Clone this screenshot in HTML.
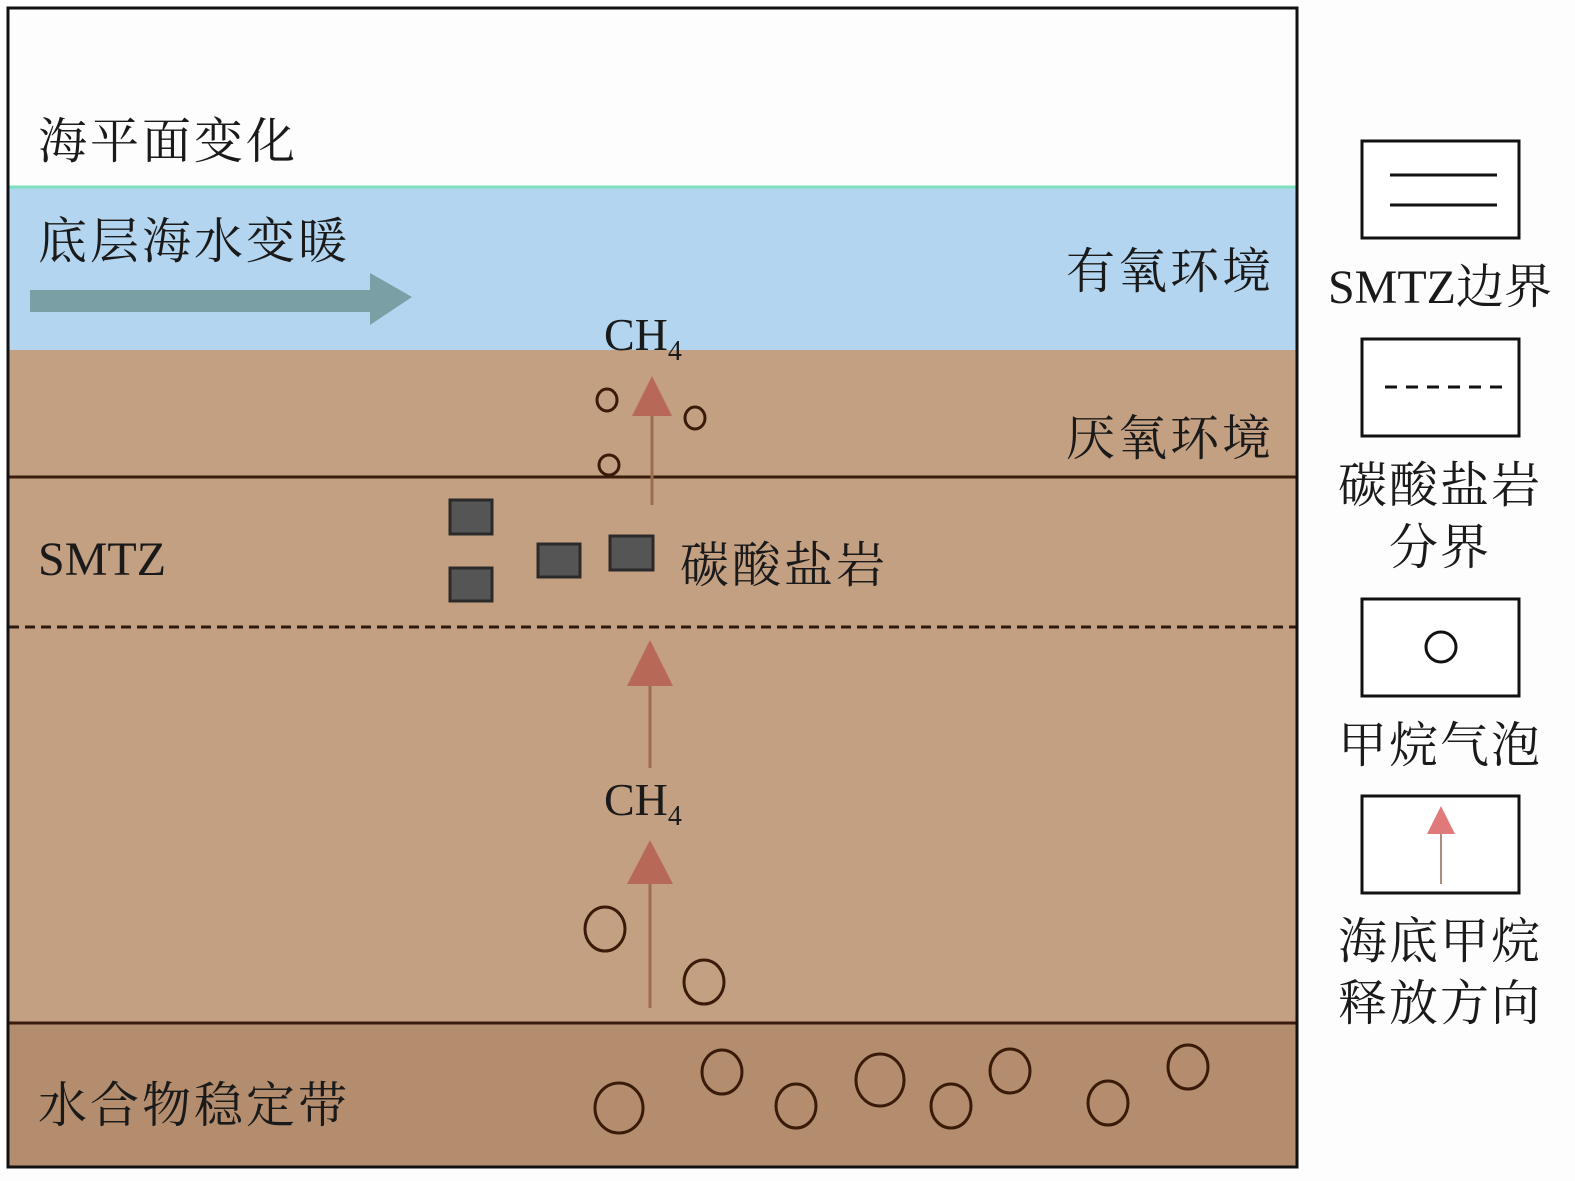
<!DOCTYPE html>
<html><head><meta charset="utf-8"><style>
html,body{margin:0;padding:0;background:#fff;}
svg{display:block;}
text{font-family:"Liberation Serif","Noto Serif CJK SC",serif;}
</style></head><body>
<svg width="1575" height="1181" viewBox="0 0 1575 1181" xmlns="http://www.w3.org/2000/svg">
<rect x="0" y="0" width="1575" height="1181" fill="#fdfdfd"/>
<rect x="9" y="186" width="1287" height="164" fill="#b3d5ef"/>
<line x1="9" y1="187" x2="1296" y2="187" stroke="#7fe0c0" stroke-width="3"/>
<rect x="9" y="350" width="1287" height="673" fill="#c4a083"/>
<rect x="9" y="1023" width="1287" height="144" fill="#b38d6e"/>
<line x1="9" y1="477" x2="1296" y2="477" stroke="#3a1c0c" stroke-width="3"/>
<line x1="9" y1="627" x2="1296" y2="627" stroke="#2a1a10" stroke-width="3" stroke-dasharray="10,6"/>
<line x1="9" y1="1023" x2="1296" y2="1023" stroke="#3a1c0c" stroke-width="3"/>
<rect x="8" y="8" width="1289" height="1159" fill="none" stroke="#111" stroke-width="3"/>
<g font-size="49" fill="#1a1a1a" letter-spacing="3">
<text x="38" y="158">海平面变化</text>
<text x="38" y="258">底层海水变暖</text>
<text x="1066" y="288">有氧环境</text>
<text x="1066" y="455">厌氧环境</text>
<text x="38" y="575" font-size="48" letter-spacing="0">SMTZ</text>
<text x="680" y="582">碳酸盐岩</text>
<text x="38" y="1122">水合物稳定带</text>
<text x="604" y="350" font-size="46" letter-spacing="0">CH<tspan font-size="28" dy="10">4</tspan></text>
<text x="604" y="815" font-size="46" letter-spacing="0">CH<tspan font-size="28" dy="10">4</tspan></text>
</g>
<rect x="30" y="290" width="342" height="22" fill="#7a9fa5"/>
<polygon points="370,273 412,297 370,325" fill="#7a9fa5"/>
<line x1="652" y1="410" x2="652" y2="505" stroke="#9a6c52" stroke-width="3"/>
<polygon points="652,376 632,416 672,416" fill="#b86856"/>
<line x1="650" y1="680" x2="650" y2="768" stroke="#9a6c52" stroke-width="3"/>
<polygon points="650,640 627,686 673,686" fill="#b86856"/>
<line x1="650" y1="880" x2="650" y2="1008" stroke="#9a6c52" stroke-width="3"/>
<polygon points="650,840 627,884 673,884" fill="#b86856"/>
<g fill="#555" stroke="#2a2a2a" stroke-width="3">
<rect x="450" y="500" width="42" height="34"/>
<rect x="450" y="568" width="42" height="33"/>
<rect x="538" y="544" width="42" height="33"/>
<rect x="610" y="536" width="43" height="34"/>
</g>
<g fill="none" stroke="#3a1a08" stroke-width="3">
<ellipse cx="607" cy="400" rx="10" ry="11"/>
<ellipse cx="695" cy="418" rx="10" ry="11"/>
<ellipse cx="609" cy="465" rx="10" ry="10"/>
<ellipse cx="605" cy="929" rx="20" ry="22"/>
<ellipse cx="704" cy="982" rx="20" ry="22"/>
<ellipse cx="619" cy="1108" rx="24" ry="25"/>
<ellipse cx="722" cy="1072" rx="20" ry="22"/>
<ellipse cx="796" cy="1106" rx="20" ry="22"/>
<ellipse cx="880" cy="1080" rx="24" ry="26"/>
<ellipse cx="951" cy="1106" rx="20" ry="22"/>
<ellipse cx="1010" cy="1071" rx="20" ry="22"/>
<ellipse cx="1108" cy="1103" rx="20" ry="22"/>
<ellipse cx="1188" cy="1067" rx="20" ry="22"/>
</g>
<g fill="#fff" stroke="#111" stroke-width="3">
<rect x="1362" y="141" width="157" height="97"/>
<rect x="1362" y="339" width="157" height="97"/>
<rect x="1362" y="599" width="157" height="97"/>
<rect x="1362" y="796" width="157" height="97"/>
</g>
<line x1="1390" y1="175" x2="1497" y2="175" stroke="#111" stroke-width="3"/>
<line x1="1390" y1="205" x2="1497" y2="205" stroke="#111" stroke-width="3"/>
<line x1="1385" y1="387" x2="1510" y2="387" stroke="#111" stroke-width="3" stroke-dasharray="12,9"/>
<circle cx="1441" cy="647" r="15" fill="none" stroke="#111" stroke-width="3"/>
<line x1="1441" y1="830" x2="1441" y2="884" stroke="#b08a80" stroke-width="2"/>
<polygon points="1441,806 1427,834 1455,834" fill="#e07a7a"/>
<g font-size="49" fill="#1a1a1a" text-anchor="middle" letter-spacing="2">
<text x="1440" y="303" font-size="48" letter-spacing="0">SMTZ边界</text>
<text x="1440" y="502">碳酸盐岩</text>
<text x="1440" y="564">分界</text>
<text x="1440" y="762">甲烷气泡</text>
<text x="1440" y="958">海底甲烷</text>
<text x="1440" y="1020">释放方向</text>
</g>
</svg>
</body></html>
